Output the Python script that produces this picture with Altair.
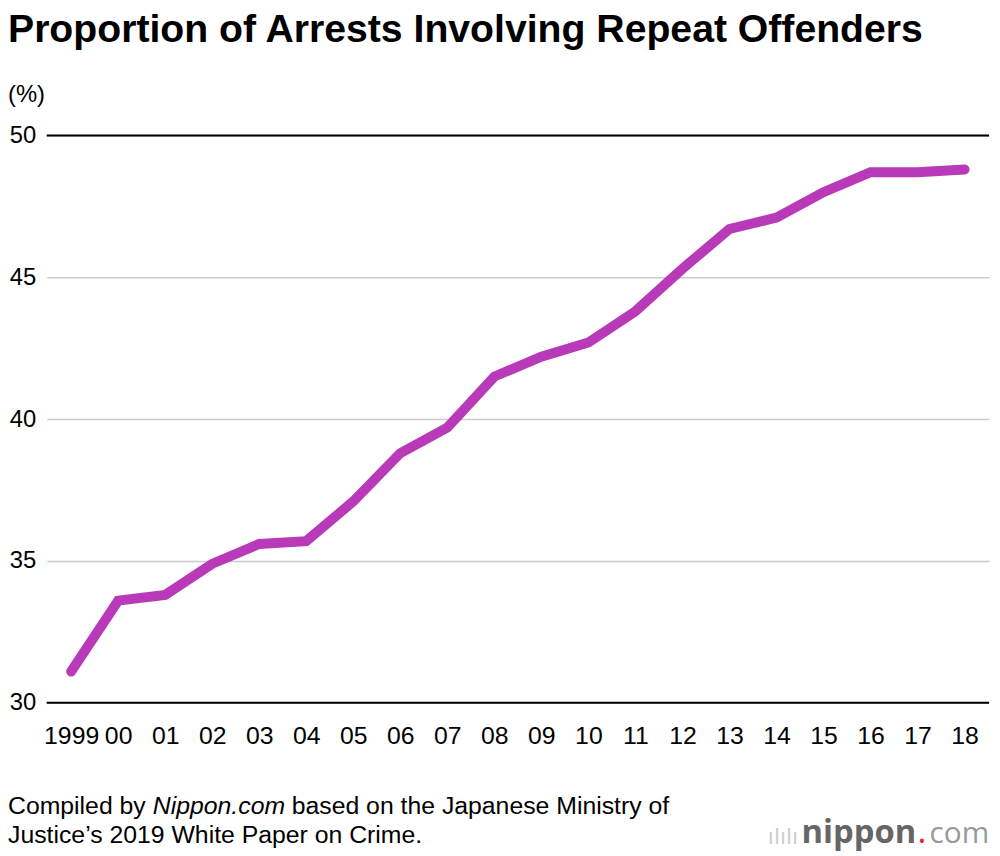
import altair as alt
import pandas as pd

years = ["1999", "00", "01", "02", "03", "04", "05", "06", "07", "08",
         "09", "10", "11", "12", "13", "14", "15", "16", "17", "18"]
share = [31.1, 33.6, 33.8, 34.9, 35.6, 35.7, 37.1, 38.8, 39.7, 41.5,
         42.2, 42.7, 43.8, 45.3, 46.7, 47.1, 48.0, 48.7, 48.7, 48.8]
y_ticks = [30, 35, 40, 45, 50]
dark_rules = [30, 50]

title_text = "Proportion of Arrests Involving Repeat Offenders"
unit_text = "(%)"
src_a = "Compiled by"
src_b = "Nippon.com"
src_c = "based on the Japanese Ministry of"
src_d = "Justice\u2019s 2019 White Paper on Crime."

df = pd.DataFrame({"year": years, "share": share})
FONT = "Liberation Sans"

x_enc = alt.X("year:N", sort=None,
              scale=alt.Scale(type="point", padding=0.52),
              axis=alt.Axis(title=None, labelAngle=0, labelFontSize=25, labelColor="black",
                            labelFont=FONT, labelPadding=21, domain=False, ticks=False,
                            grid=False, labelOverlap=False))
y_scale = alt.Scale(domain=[30, 50], nice=False, zero=False)
y_axis = alt.Axis(title=None, values=y_ticks, labelFontSize=24, labelColor="black",
                  labelFont=FONT, labelPadding=11, domain=False, ticks=False,
                  grid=True, gridColor="#cccccc", gridWidth=1.5)

line = alt.Chart(df).mark_line(color="#b83ab8", strokeWidth=10, strokeCap="round",
                               strokeJoin="miter").encode(
    x=x_enc,
    y=alt.Y("share:Q", scale=y_scale, axis=y_axis),
)

rules = alt.Chart(pd.DataFrame({"share": dark_rules})).mark_rule(color="black", strokeWidth=2).encode(
    y=alt.Y("share:Q", scale=y_scale, axis=y_axis)
)


def txt(text, x, y, size, weight="normal", style="normal", color="black", font=FONT, align="left"):
    return alt.Chart(alt.Data(values=[{}])).mark_text(
        text=text, align=align, baseline="alphabetic", fontSize=size, fontWeight=weight,
        fontStyle=style, color=color, font=font
    ).encode(x=alt.value(x), y=alt.value(y))


# plot origin is at page (47, 133)
OX, OY = 47, 133
FS = 25
texts = [
    txt(title_text, 8 - OX, 39 - OY, 39.5, weight="bold"),
    txt(unit_text, 8 - OX, 99 - OY, 24),
    txt(src_a, 8 - OX, 817 - OY, FS),
    txt(src_b, 154 - OX, 817 - OY, FS, style="italic"),
    txt(src_c, 294 - OX, 817 - OY, FS),
    txt(src_d, 8 - OX, 846 - OY, FS),
    txt("\u0131l\u0131l\u0131", 774 - OX, 847 - OY, 22, color="#cccccc", font="DejaVu Sans"),
    txt("nippon", 808 - OX, 846 - OY, 33, weight="bold", color="#666666", font="Open Sans"),
    txt(".", 925 - OX, 846 - OY, 34, color="#e8242b", font="Open Sans"),
    txt("com", 937 - OX, 846 - OY, 30, color="#999999", font="Open Sans"),
]

chart = alt.layer(line, rules, *texts).properties(
    width=950, height=572,
    autosize=alt.AutoSizeParams(type="none"),
    padding={"left": 39, "top": 125, "right": 3, "bottom": 151},
    background="white",
).configure_view(stroke=None)

chart.save("out.html", embed_options={"renderer": "svg", "actions": False})
